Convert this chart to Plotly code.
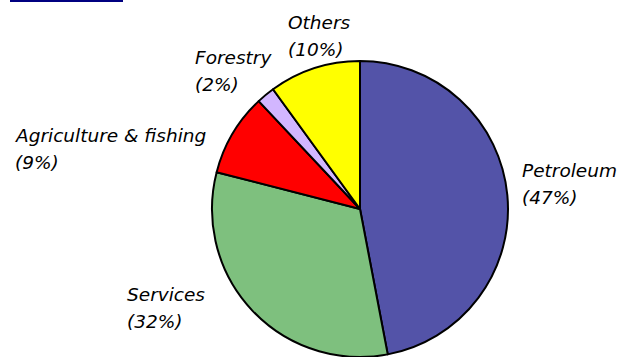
import plotly.graph_objects as go

# ---- data ----
sectors = ["Petroleum", "Services", "Agriculture & fishing", "Forestry", "Others"]
shares = [47, 32, 9, 2, 10]
colors = ["#5353A8", "#7EC07E", "#FF0000", "#D2B6FF", "#FFFF00"]

# label anchor (top-left, in pixels from top-left of the figure)
label_px = {
    "Petroleum": (520, 158),
    "Services": (125, 282),
    "Agriculture & fishing": (13, 123),
    "Forestry": (193, 45),
    "Others": (286, 10),
}

W, H = 618, 357
cx, cy, r = 360, 209, 148

fig = go.Figure()
fig.add_trace(go.Pie(
    labels=sectors,
    values=shares,
    sort=False,
    direction="clockwise",
    rotation=0,
    textinfo="none",
    hoverinfo="label+percent",
    marker=dict(colors=colors, line=dict(color="#000000", width=2)),
    domain=dict(x=[(cx - r) / W, (cx + r) / W], y=[max(0, 1 - (cy + r) / H), 1 - (cy - r) / H]),
    showlegend=False,
))

font = dict(family="DejaVu Sans", size=18.5, color="#000000", style="italic")
for name, val in zip(sectors, shares):
    px, py = label_px[name]
    fig.add_annotation(x=px / W, y=1 - py / H, xref="paper", yref="paper",
                       xanchor="left", yanchor="top", text=name, showarrow=False,
                       font=font, align="left")
    fig.add_annotation(x=px / W, y=1 - (py + 27) / H, xref="paper", yref="paper",
                       xanchor="left", yanchor="top", text=f"({val}%)", showarrow=False,
                       font=font, align="left")

# navy rule at the top-left corner
fig.add_shape(type="rect", xref="paper", yref="paper",
              x0=10 / W, x1=123 / W, y0=1 - 2 / H, y1=1.0,
              fillcolor="#000080", line=dict(width=0))

fig.update_layout(width=W, height=H, margin=dict(l=0, r=0, t=0, b=0),
                  paper_bgcolor="white", plot_bgcolor="white")
fig.write_html("out.html", config={"displayModeBar": False},
               post_script="document.body.style.margin='0';document.body.style.overflow='hidden';")
